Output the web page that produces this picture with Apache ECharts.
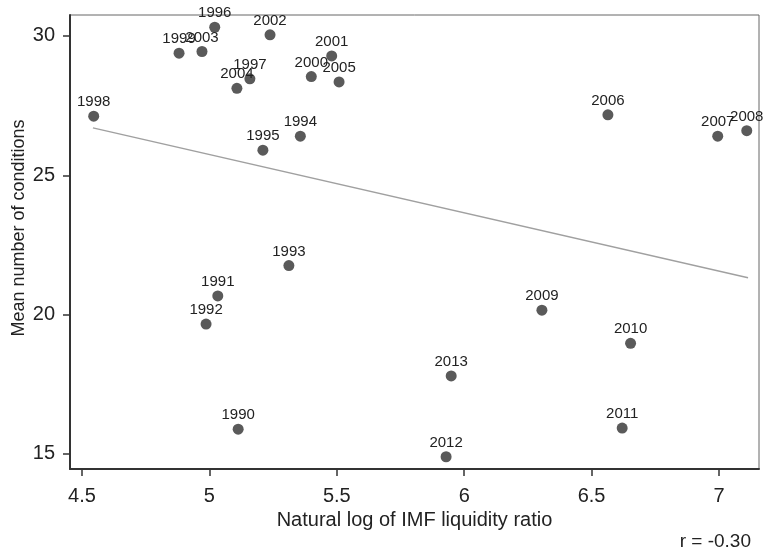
<!DOCTYPE html>
<html><head><meta charset="utf-8">
<script src="https://cdn.jsdelivr.net/npm/echarts@6/dist/echarts.min.js"></script>
<style>html,body{margin:0;padding:0;background:#fff}#c{width:764px;height:549px}</style>
</head><body><div id="c"></div>
<script>
const years = ['1990','1991','1992','1993','1994','1995','1996','1997','1998','1999','2000','2001','2002','2003','2004','2005','2006','2007','2008','2009','2010','2011','2012','2013'];
const liquidity = [5.113,5.033,4.987,5.312,5.357,5.210,5.021,5.159,4.546,4.881,5.400,5.480,5.238,4.971,5.108,5.509,6.564,6.995,7.109,6.305,6.653,6.620,5.929,5.949];
const conditions = [15.89,20.67,19.66,21.76,26.40,25.90,30.31,28.46,27.12,29.38,28.54,29.28,30.04,29.44,28.12,28.35,27.17,26.40,26.60,20.16,18.97,15.93,14.90,17.80];
const fitX = [4.543, 7.114];
const fitY = [26.70, 21.32];
const xTicks = [4.5, 5, 5.5, 6, 6.5, 7];
const yTicks = [15, 20, 25, 30];
const rText = 'r = -0.30';

const font = 'Liberation Sans, Arial, sans-serif';
const chart = echarts.init(document.getElementById('c'), null, {renderer:'canvas'});
chart.setOption({
  animation:false,
  backgroundColor:'#fff',
  grid:{left:70,right:5,top:15,bottom:80,show:true,borderColor:'#666',borderWidth:1,outerBoundsMode:'none',containLabel:false},
  xAxis:{type:'value',min:4.453,max:7.157,
    name:'Natural log of IMF liquidity ratio',nameLocation:'middle',nameGap:36,
    nameTextStyle:{fontFamily:font,fontSize:20,color:'#222'},
    splitLine:{show:false},
    axisLine:{onZero:false,lineStyle:{color:'#333',width:2}},
    axisTick:{customValues:xTicks,length:7,lineStyle:{color:'#333',width:1.5}},
    axisLabel:{customValues:xTicks,margin:17,fontFamily:font,fontSize:20,color:'#222',formatter:v=>String(v)}},
  yAxis:{type:'value',min:14.46,max:30.75,
    name:'Mean number of conditions',nameLocation:'middle',nameGap:42,nameMoveOverlap:false,
    nameTextStyle:{fontFamily:font,fontSize:18,color:'#222',padding:[0,0,0,28]},
    splitLine:{show:false},
    axisLine:{onZero:false,lineStyle:{color:'#333',width:2}},
    axisTick:{customValues:yTicks,length:7,lineStyle:{color:'#333',width:1.5}},
    axisLabel:{customValues:yTicks,margin:15,fontFamily:font,fontSize:20,color:'#222'}},
  series:[
    {type:'line',data:fitX.map((x,i)=>[x,fitY[i]]),symbol:'none',
     lineStyle:{color:'#a0a0a0',width:1.5},z:1,silent:true},
    {type:'scatter',data:liquidity.map((x,i)=>[x,conditions[i],years[i]]),
     symbolSize:11,itemStyle:{color:'#5a5a5a',opacity:1},z:2,
     label:{show:true,position:'top',distance:1,formatter:p=>p.data[2],
       fontFamily:font,fontSize:15,color:'#222'}}
  ],
  graphic:[{type:'text',right:13,top:532,
    style:{text:rText,fontFamily:font,fontSize:19,fill:'#222'}}]
});
</script></body></html>
